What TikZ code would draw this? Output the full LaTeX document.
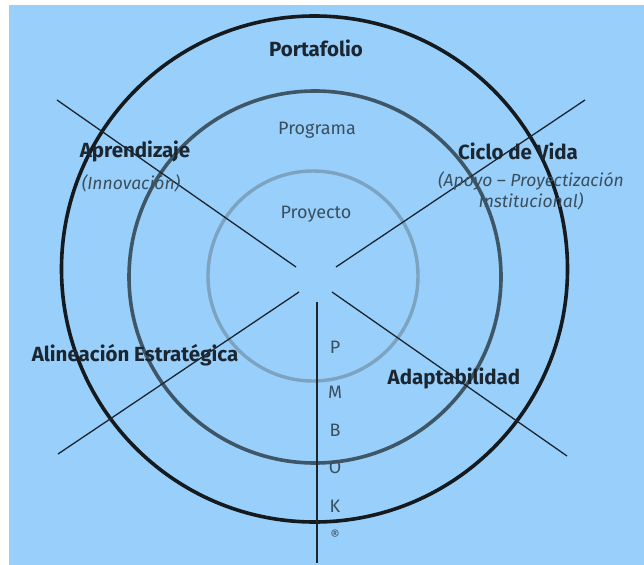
\documentclass[tikz,border=0pt]{standalone}
\usepackage{fontspec}
\setmainfont{Fira Sans}
\definecolor{fondo}{HTML}{99CFFB}
\definecolor{anillo1}{HTML}{151A1E}
\definecolor{anillo2}{HTML}{3E5666}
\definecolor{anillo3}{HTML}{7CA3C0}
\definecolor{tinta}{HTML}{1B2630}
\definecolor{tinta2}{HTML}{3A4F5E}
\tikzset{
  nivel/.style={font=\fontsize{20.5}{24}\selectfont\bfseries, text=tinta},
  capa/.style={font=\fontsize{18}{21}\selectfont, text=tinta2},
  nota/.style={font=\fontsize{17.5}{21}\selectfont\itshape, text=tinta2, align=center},
  letra/.style={font=\fontsize{18}{21}\selectfont, text=tinta2}
}
\begin{document}
\begin{tikzpicture}[scale=0.3514]
\tikzstyle{every node}+=[inner sep=0pt]
\useasboundingbox (0,0) rectangle (64.4,-56.5);
\fill [fondo] (0.9,-0.5) rectangle (64.4,-56.5);
\draw [anillo1, line width=3.6pt] (31.45,-26.9) circle (25.3);
\draw [anillo2, line width=3.6pt] (31.5,-27.7) circle (18.6);
\draw [anillo3, line width=3.4pt] (31.3,-27.6) circle (10.5);
\draw [tinta, line width=1.3pt] (5.7,-10) -- (29.6,-26.7);
\draw [tinta, line width=1.3pt] (58.5,-10) -- (33.6,-26.7);
\draw [tinta, line width=1.3pt] (29.9,-29.2) -- (5.8,-45.4);
\draw [tinta, line width=1.3pt] (33.2,-29.2) -- (56.7,-45.6);
\draw [tinta, line width=1.3pt] (31.7,-30.2) -- (31.7,-56.3);
\draw (31.6,-4.8) node [nivel] (portafolio) {Portafolio};
\draw (31.7,-13) node [capa] (programa) {Programa};
\draw (31.6,-21.4) node [capa] (proyecto) {Proyecto};
\draw (13.5,-15.1) node [nivel] (aprendizaje) {Aprendizaje};
\draw (13.1,-18.3) node [nota] (innovacion) {(Innovación)};
\draw (51.8,-15.1) node [nivel] (ciclo) {Ciclo de Vida};
\draw (53.1,-19.05) node [nota] (apoyo) {(Apoyo – Proyectización\\Institucional)};
\draw (13.5,-35.5) node [nivel] (alineacion) {Alineación Estratégica};
\draw (45.4,-37.8) node [nivel] (adaptabilidad) {Adaptabilidad};
\draw (33.5,-34.7) node [letra] (p) {P};
\draw (33.5,-39.2) node [letra] (m) {M};
\draw (33.5,-43) node [letra] (b) {B};
\draw (33.5,-46.7) node [letra] (o) {O};
\draw (33.5,-50.6) node [letra] (k) {K};
\draw (33.5,-53.5) node [letra, font=\fontsize{14}{16}\selectfont] (reg) {®};
\end{tikzpicture}
\end{document}
